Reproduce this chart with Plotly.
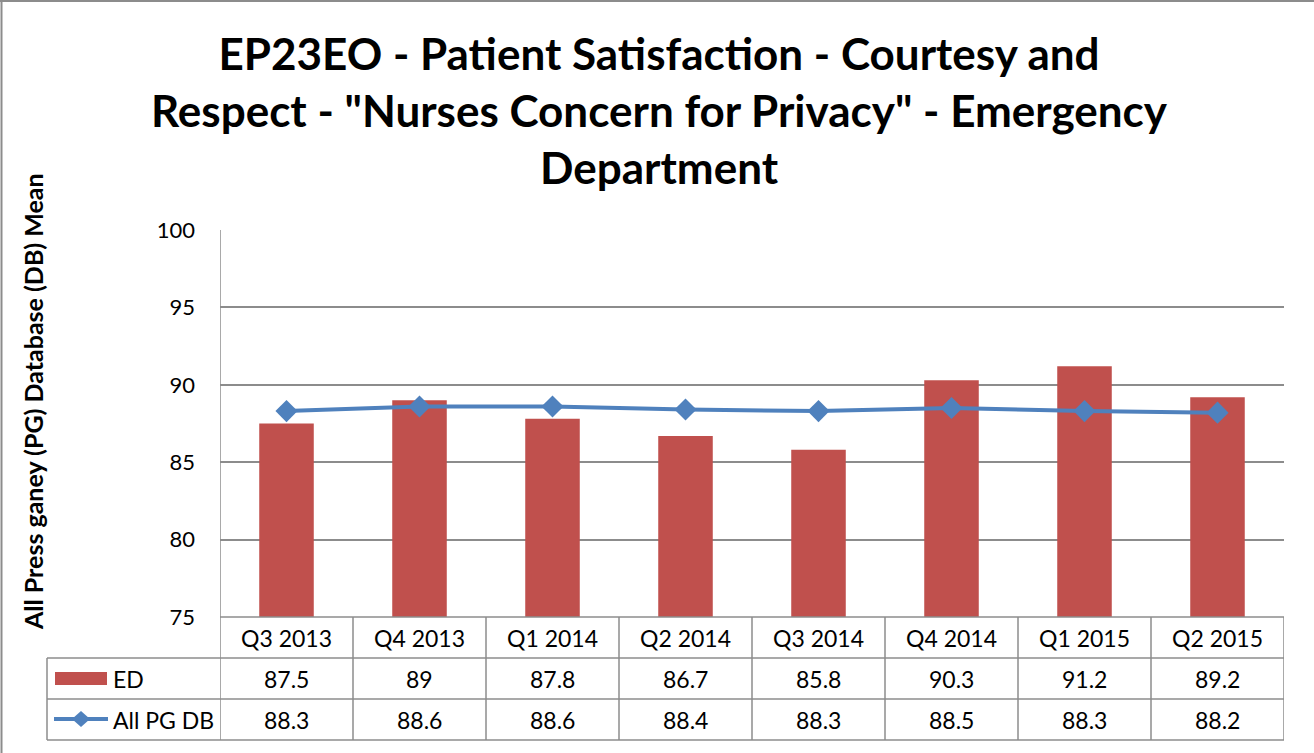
import plotly.graph_objects as go

categories = ["Q3 2013", "Q4 2013", "Q1 2014", "Q2 2014", "Q3 2014", "Q4 2014", "Q1 2015", "Q2 2015"]
ed_values = [87.5, 89, 87.8, 86.7, 85.8, 90.3, 91.2, 89.2]
pg_values = [88.3, 88.6, 88.6, 88.4, 88.3, 88.5, 88.3, 88.2]
ed_labels = ["87.5", "89", "87.8", "86.7", "85.8", "90.3", "91.2", "89.2"]
pg_labels = ["88.3", "88.6", "88.6", "88.4", "88.3", "88.5", "88.3", "88.2"]
y_ticks = [75, 80, 85, 90, 95, 100]

W, H = 1314, 753
L, R, T, B = 220, 30, 230, 136
PW, PH = W - L - R, H - T - B

def py(p):  # pixel y -> paper y
    return (H - B - p) / PH

def px(p):  # pixel x -> paper x
    return (p - L) / PW

RED = "#C0504D"
BLUE = "#4F81BD"
GRID = "#8C8C8C"
FONT = "Lato"

fig = go.Figure()
fig.add_trace(go.Bar(x=list(range(len(categories))), y=ed_values, marker=dict(color=RED, line=dict(width=0)),
                     width=0.41, name="ED", showlegend=False))
fig.add_trace(go.Scatter(x=list(range(len(categories))), y=pg_values, mode="lines+markers",
                         line=dict(color=BLUE, width=4), marker=dict(symbol="diamond", size=17, color=BLUE),
                         name="All PG DB", showlegend=False))

shapes = []
n = len(categories)
for i in range(n + 1):
    top = 1 if i == 0 else 0
    shapes.append(dict(type="line", xref="x", yref="paper", x0=i - 0.5, x1=i - 0.5,
                       y0=py(740), y1=top, line=dict(color=GRID, width=1.5)))
shapes.append(dict(type="line", xref="paper", yref="paper", x0=0, x1=1, y0=0, y1=0, line=dict(color=GRID, width=1.5)))
for p in (658, 699, 740):
    shapes.append(dict(type="line", xref="paper", yref="paper", x0=px(47), x1=1, y0=py(p), y1=py(p),
                       line=dict(color=GRID, width=1.5)))
shapes.append(dict(type="line", xref="paper", yref="paper", x0=px(47), x1=px(47), y0=py(658), y1=py(740),
                   line=dict(color=GRID, width=1.5)))
shapes.append(dict(type="rect", xref="paper", yref="paper", x0=px(55), x1=px(107), y0=py(685), y1=py(672),
                   fillcolor=RED, line=dict(width=0)))
shapes.append(dict(type="line", xref="paper", yref="paper", x0=px(54), x1=px(108), y0=py(719), y1=py(719),
                   line=dict(color=BLUE, width=4)))
shapes.append(dict(type="path", xref="paper", yref="paper",
                   path=f"M {px(72)},{py(719)} L {px(81)},{py(711)} L {px(90)},{py(719)} L {px(81)},{py(727)} Z",
                   fillcolor=BLUE, line=dict(width=0)))
shapes.append(dict(type="line", xref="paper", yref="paper", x0=px(0), x1=px(W), y0=py(1), y1=py(1),
                   line=dict(color="#8C8C8C", width=2)))
shapes.append(dict(type="line", xref="paper", yref="paper", x0=px(1.5), x1=px(1.5), y0=py(0), y1=py(H),
                   line=dict(color="#8C8C8C", width=2)))

annotations = []
tfont = dict(family=FONT, size=23, color="black")
for i in range(n):
    for lab, pyy in ((categories[i], 637.5), (ed_labels[i], 678.5), (pg_labels[i], 719.5)):
        annotations.append(dict(x=i, y=py(pyy), xref="x", yref="paper", text=lab, showarrow=False,
                                xanchor="center", yanchor="middle", font=tfont))
annotations.append(dict(x=px(111), y=py(678.5), xref="paper", yref="paper", text="ED", showarrow=False,
                        xanchor="left", yanchor="middle", font=tfont))
annotations.append(dict(x=px(111), y=py(719.5), xref="paper", yref="paper", text="All PG DB", showarrow=False,
                        xanchor="left", yanchor="middle", font=tfont))
annotations.append(dict(x=px(33), y=py(402), xref="paper", yref="paper",
                        text="<b>All Press ganey (PG) Database (DB) Mean</b>", textangle=-90, showarrow=False,
                        xanchor="center", yanchor="middle", font=dict(family=FONT, size=25, color="black")))
annotations.append(dict(x=px(659), y=py(110), xref="paper", yref="paper",
                        text="<b>EP23EO - Patient Satisfaction - Courtesy and<br>Respect - \"Nurses Concern for Privacy\" - Emergency<br>Department</b>",
                        showarrow=False, xanchor="center", yanchor="middle",
                        font=dict(family=FONT, size=44, color="black")))

fig.update_layout(
    width=W, height=H, margin=dict(l=L, r=R, t=T, b=B),
    paper_bgcolor="white", plot_bgcolor="white",
    shapes=shapes, annotations=annotations, showlegend=False,
    xaxis=dict(range=[-0.5, n - 0.5], showticklabels=False, showgrid=False, zeroline=False, ticks=""),
    yaxis=dict(range=[75, 100], tickvals=y_ticks, showgrid=True, gridcolor=GRID, gridwidth=1.5,
               zeroline=False, showline=False, ticks="", tickfont=dict(family=FONT, size=22, color="black"),
               ticklabelstandoff=24),
)

fig.write_html("out.html", config={"displayModeBar": False},
               post_script="document.body.style.margin='0px';document.body.style.overflow='hidden';")
